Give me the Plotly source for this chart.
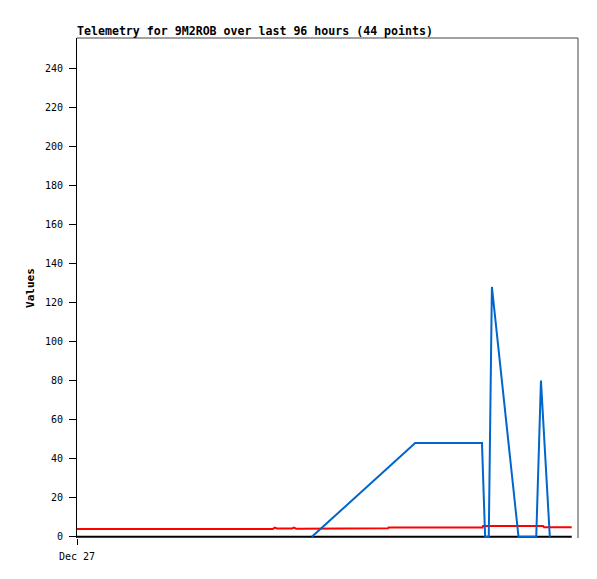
import plotly.graph_objects as go

# hours since start of window (Dec 27 00:00)
blue_x = [45.0, 64.8, 77.6, 78.2, 78.9, 79.5, 84.6, 88.0, 88.9, 90.6]
blue_y = [0, 48, 48, 0, 0, 128, 0, 0, 80, 0]

red_x = [0, 37.5, 37.9, 38.3, 41.2, 41.6, 42.0, 49.6, 49.7, 59.6, 59.7, 77.7, 77.8, 89.3, 89.5, 94.8]
red_y = [4.0, 4.0, 4.7, 4.3, 4.3, 4.7, 4.1, 4.1, 4.4, 4.4, 4.8, 4.8, 5.6, 5.6, 4.9, 4.9]

black_x = [0, 94.8]
black_y = [0, 0]

y_ticks = list(range(0, 241, 20))
x_tick_vals = [0]
x_tick_text = ["Dec 27"]

title = "Telemetry for 9M2ROB over last 96 hours (44 points)"

fig = go.Figure()
fig.add_trace(go.Scatter(x=black_x, y=black_y, mode="lines", line=dict(color="#000000", width=2), showlegend=False, hoverinfo="skip"))
fig.add_trace(go.Scatter(x=red_x, y=red_y, mode="lines", line=dict(color="#ff0000", width=2), showlegend=False))
fig.add_trace(go.Scatter(x=blue_x, y=blue_y, mode="lines", line=dict(color="#0066cc", width=2), showlegend=False))

mono = "DejaVu Sans Mono"
W, H = 597, 579
fig.update_layout(
    width=W, height=H,
    margin=dict(l=69, r=27, t=30, b=49),
    paper_bgcolor="white", plot_bgcolor="white",
    title=dict(text="<b>" + title + "</b>", x=69/W, xanchor="left", y=1-23/H, yanchor="middle",
               font=dict(family=mono, size=11.6, color="#000")),
    xaxis=dict(range=[0, 96], showgrid=False, zeroline=False, showline=False,
               tickvals=x_tick_vals, ticktext=x_tick_text, ticks="outside", ticklen=6,
               tickcolor="#000", tickwidth=1, ticklabelstandoff=3,
               tickfont=dict(family=mono, size=10, color="#000")),
    yaxis=dict(range=[-0.6, 255.5], showgrid=False, zeroline=False, showline=True, linecolor="#000",
               linewidth=1, tickvals=y_ticks, ticks="outside", ticklen=7, tickcolor="#000",
               ticklabelstandoff=4,
               tickfont=dict(family=mono, size=10, color="#000"),
               title=dict(text="<b>Values</b>", font=dict(family=mono, size=11, color="#000"), standoff=8)),
    shapes=[
        dict(type="line", xref="paper", yref="paper", x0=0, x1=1, y0=1, y1=1, line=dict(color="#444", width=1)),
        dict(type="line", xref="paper", yref="paper", x0=1, x1=1, y0=0, y1=1, line=dict(color="#444", width=1)),
    ],
)
fig.write_html("out.html")
